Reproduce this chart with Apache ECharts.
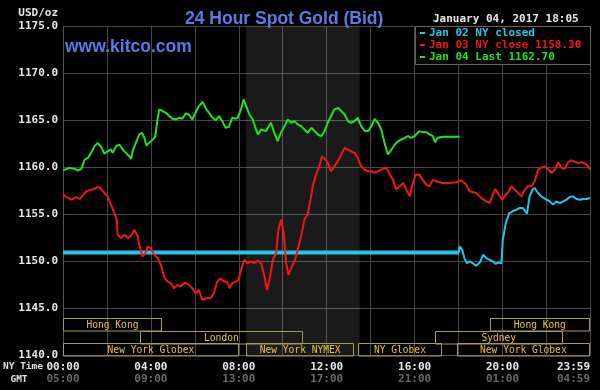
<!DOCTYPE html>
<html>
<head>
<meta charset="utf-8">
<script src="https://cdn.jsdelivr.net/npm/echarts@6/dist/echarts.min.js"></script>
<style>html,body{margin:0;padding:0;background:#000;}#c{width:600px;height:390px;}</style>
</head>
<body>
<div id="c"></div>
<script>
// ---- Data (time = minutes after 00:00 NY time, price in USD/oz) ----
const titleText = '24 Hour Spot Gold (Bid)';
const siteText = 'www.kitco.com';
const dateText = 'January 04, 2017 18:05';
const unitText = 'USD/oz';
const legendLabels = ['Jan 02 NY closed', 'Jan 03 NY close 1158.30', 'Jan 04 Last 1162.70'];
const nyMexShade = [500, 810]; // 08:20 - 13:30

const cyanJan02 = [[0,1150.96],[1081,1150.96],[1083,1151.60],[1090,1151.25],[1096,1150.36],[1103,1149.82],[1110,1150.00],[1119,1149.82],[1128,1149.54],[1138,1149.89],[1147,1150.71],[1156,1150.36],[1165,1150.18],[1174,1150.00],[1181,1149.75],[1188,1149.89],[1197,1149.82],[1201,1152.31],[1209,1154.09],[1218,1155.09],[1227,1155.33],[1238,1155.51],[1247,1155.69],[1256,1155.69],[1261,1155.87],[1267,1155.09],[1274,1156.93],[1282,1157.65],[1288,1157.82],[1297,1157.29],[1306,1156.93],[1320,1156.58],[1329,1156.40],[1338,1156.05],[1347,1156.40],[1357,1156.22],[1366,1156.40],[1375,1156.58],[1384,1156.86],[1393,1156.93],[1402,1156.65],[1411,1156.58],[1420,1156.65],[1430,1156.65],[1439,1156.76]];
const cyanClosedEnd = 1081;

const redJan03 = [[0,1157.11],[9,1156.86],[23,1156.58],[36,1156.86],[45,1156.65],[54,1157.01],[63,1157.47],[77,1157.65],[86,1157.72],[95,1157.93],
[104,1157.72],[113,1157.29],[122,1156.93],[131,1156.05],[140,1155.16],[147,1154.45],[149,1152.85],[158,1152.49],[168,1152.85],[177,1152.49],
[186,1152.74],[195,1153.38],[204,1152.67],[208,1151.78],[217,1150.53],[225,1150.89],[231,1151.60],[240,1151.42],[249,1150.71],[258,1150.36],
[267,1149.65],[276,1148.40],[285,1147.87],[294,1147.69],[303,1147.16],[312,1147.51],[322,1147.34],[333,1147.76],[344,1147.51],[353,1147.16],
[362,1146.63],[371,1146.98],[380,1145.91],[389,1146.09],[403,1146.09],[412,1146.63],[421,1147.87],[430,1148.22],[439,1147.87],[448,1147.87],
[455,1147.16],[462,1147.69],[471,1147.87],[480,1148.05],[486,1149.11],[495,1150.18],[504,1149.82],[513,1150.00],[522,1149.82],[532,1150.11],
[541,1149.82],[550,1148.40],[557,1146.98],[564,1148.05],[573,1150.18],[582,1150.89],[588,1153.38],[595,1154.45],[603,1153.02],[609,1149.82],
[616,1148.58],[625,1149.47],[634,1150.18],[641,1151.25],[650,1152.67],[659,1154.45],[668,1154.98],[676,1156.58],[682,1158.00],[691,1159.24],
[700,1160.13],[707,1161.20],[716,1160.84],[723,1160.49],[732,1159.60],[741,1160.13],[751,1160.67],[760,1161.38],[769,1162.09],[778,1161.91],
[787,1161.73],[796,1161.56],[805,1161.02],[814,1160.13],[824,1159.78],[833,1159.60],[842,1159.60],[851,1159.42],[860,1159.60],[869,1159.78],
[883,1159.96],[892,1159.24],[901,1158.71],[910,1157.65],[919,1158.00],[929,1158.36],[938,1157.65],[947,1156.93],[953,1158.00],[960,1158.89],
[964,1159.24],[973,1159.24],[982,1158.71],[992,1158.18],[1001,1158.00],[1010,1158.71],[1019,1158.53],[1037,1158.36],[1055,1158.36],[1074,1158.43],
[1087,1158.64],[1101,1158.18],[1110,1157.47],[1128,1157.29],[1142,1156.76],[1156,1156.40],[1165,1156.22],[1174,1157.11],[1181,1157.72],[1190,1157.11],
[1200,1156.58],[1209,1157.11],[1218,1157.47],[1224,1158.00],[1233,1157.65],[1243,1157.29],[1252,1156.93],[1261,1157.65],[1270,1158.00],[1279,1158.00],
[1288,1158.53],[1297,1159.78],[1306,1159.96],[1315,1160.13],[1325,1159.78],[1334,1159.42],[1343,1159.78],[1352,1160.56],[1361,1159.96],[1370,1159.85],
[1379,1160.56],[1388,1160.77],[1398,1160.56],[1407,1160.49],[1416,1160.56],[1425,1160.42],[1434,1160.13],[1439,1159.78]];

const greenJan04 = [[0,1159.71],[18,1159.96],[32,1159.85],[41,1159.67],[50,1159.85],[59,1160.84],[68,1161.02],[77,1161.56],[86,1162.27],[95,1162.62],
[104,1162.20],[113,1161.48],[122,1161.73],[131,1161.91],[136,1161.56],[145,1162.27],[154,1162.44],[163,1161.91],[172,1161.56],[181,1161.20],
[186,1160.92],[190,1161.73],[199,1162.62],[208,1163.51],[216,1163.69],[222,1163.16],[228,1162.34],[235,1162.62],[245,1162.98],[252,1163.26],
[258,1165.11],[263,1166.18],[272,1166.00],[281,1165.82],[290,1165.47],[299,1165.18],[308,1165.11],[317,1165.29],[326,1165.18],[335,1165.75],
[344,1165.64],[353,1165.11],[362,1165.82],[371,1166.53],[382,1166.96],[389,1166.35],[399,1165.82],[408,1165.29],[417,1165.04],[426,1165.47],
[435,1164.93],[444,1164.22],[453,1164.33],[462,1165.29],[471,1165.18],[477,1165.29],[486,1166.18],[493,1167.24],[500,1166.53],[509,1165.64],
[518,1165.11],[527,1164.04],[533,1163.51],[541,1164.04],[554,1163.87],[568,1164.76],[577,1163.69],[586,1162.80],[595,1163.69],[605,1164.40],
[614,1165.11],[623,1164.76],[632,1164.93],[641,1164.58],[650,1164.40],[659,1164.04],[668,1163.69],[678,1164.22],[687,1163.87],[696,1163.51],
[705,1163.33],[714,1163.87],[723,1164.76],[741,1166.18],[751,1166.35],[760,1166.00],[769,1165.64],[778,1164.93],[787,1164.76],[796,1164.93],
[805,1165.29],[814,1164.40],[824,1163.87],[833,1163.87],[842,1164.40],[851,1165.18],[860,1164.76],[869,1164.04],[878,1162.62],[887,1161.38],
[897,1161.91],[906,1162.44],[915,1162.80],[924,1162.98],[933,1163.16],[942,1163.33],[951,1163.16],[960,1163.33],[973,1163.87],[982,1163.76],
[992,1163.76],[1001,1163.51],[1010,1163.33],[1016,1162.69],[1023,1163.16],[1037,1163.26],[1055,1163.26],[1083,1163.26]];

// trading sessions
const marketNames = ['Hong Kong','London','New York Globex','New York NYMEX','NY Globex','New York Globex','Sydney','Hong Kong'];
const marketStart = [0, 210, 0, 500, 805, 1075, 1015, 1165];
const marketEnd   = [270, 655, 480, 795, 1035, 1439, 1365, 1439];
const marketRow   = [0, 1, 2, 2, 2, 2, 1, 0];

const yMin = 1140, yMax = 1175, yStep = 5;
const xMin = 0, xMax = 1439, xGridStep = 120, xLabelStep = 240, gmtOffset = 300;

// ---- Chart ----
const MONO = '"DejaVu Sans Mono", "Liberation Mono", monospace';
const SANS = '"Liberation Sans", Arial, sans-serif';
const cyanColor = '#22c6ea', redColor = '#f21616', greenColor = '#1fe41f';
const blueText = '#5a7be8';
const fmt = m => String(Math.floor(m / 60)).padStart(2, '0') + ':' + String(m % 60).padStart(2, '0');

const cyanFlat = cyanJan02.filter(p => p[0] <= cyanClosedEnd);
const cyanTail = cyanJan02.filter(p => p[0] >= cyanClosedEnd);
const marketData = marketStart.map((s, i) => [s, marketEnd[i], marketRow[i]]);

const chart = echarts.init(document.getElementById('c'), null, { renderer: 'canvas' });
chart.setOption({
  animation: false,
  backgroundColor: '#000',
  title: {
    text: titleText, left: 180, top: 5,
    textStyle: { color: blueText, fontFamily: SANS, fontSize: 17.5, fontWeight: 'bold' }
  },
  grid: { left: 63, right: 10, top: 26.5, bottom: 34.5, containLabel: false },
  legend: {
    data: [
      { name: legendLabels[0], textStyle: { color: cyanColor }, itemStyle: { color: cyanColor } },
      { name: legendLabels[1], textStyle: { color: redColor }, itemStyle: { color: redColor } },
      { name: legendLabels[2], textStyle: { color: greenColor }, itemStyle: { color: greenColor } }
    ],
    orient: 'vertical', left: 420, top: 27, padding: 0, itemGap: 0,
    icon: 'rect', itemWidth: 5, itemHeight: 2, z: 20, selectedMode: false,
    textStyle: { fontFamily: MONO, fontSize: 11, fontWeight: 'bold', lineHeight: 12, padding: [0, 0, 0, -1] }
  },
  xAxis: {
    type: 'value', min: xMin, max: xMax, interval: xGridStep,
    axisLine: { show: true, lineStyle: { color: '#555' } },
    axisTick: { show: false },
    splitLine: { show: true, lineStyle: { color: '#484848', width: 1 } },
    axisLabel: {
      margin: 6, showMaxLabel: true, showMinLabel: true, alignMaxLabel: 'right',
      formatter: v => {
        if (v % xLabelStep !== 0 && v !== xMax) return '';
        return '{a|' + fmt(v) + '}\n{b|' + fmt((v + gmtOffset) % 1440) + '}';
      },
      rich: {
        a: { color: '#e8e8e8', fontFamily: MONO, fontSize: 11, fontWeight: 'bold', lineHeight: 12 },
        b: { color: '#6a6a6a', fontFamily: MONO, fontSize: 11, fontWeight: 'bold', lineHeight: 12 }
      }
    }
  },
  yAxis: {
    type: 'value', min: yMin, max: yMax, interval: yStep,
    axisLine: { show: true, lineStyle: { color: '#555' } },
    axisTick: { show: false },
    splitLine: { show: true, lineStyle: { color: '#484848', width: 1 } },
    axisLabel: {
      margin: 5, color: '#e8e8e8', fontFamily: MONO, fontSize: 11, fontWeight: 'bold',
      formatter: v => v.toFixed(1)
    }
  },
  graphic: [
    { type: 'rect', z: 10, shape: { x: 415.5, y: 26.5, width: 175, height: 38 }, style: { fill: '#000', stroke: '#666', lineWidth: 1 } },
    { type: 'text', z: 10, style: { text: unitText, x: 58, y: 13, align: 'right', verticalAlign: 'middle', fill: '#e8e8e8', font: 'bold 11px ' + MONO } },
    { type: 'text', z: 10, style: { text: dateText, x: 433, y: 19, align: 'left', verticalAlign: 'middle', fill: '#e8e8e8', font: 'bold 11px ' + MONO } },
    { type: 'text', z: 10, style: { text: siteText, x: 65, y: 47, align: 'left', verticalAlign: 'middle', fill: blueText, font: 'bold 17.5px ' + SANS } },
    { type: 'text', z: 10, style: { text: 'NY Time', x: 23, y: 367, align: 'center', verticalAlign: 'middle', fill: '#e0e0e0', font: 'bold 9.5px ' + MONO } },
    { type: 'text', z: 10, style: { text: 'GMT', x: 19, y: 380, align: 'center', verticalAlign: 'middle', fill: '#e0e0e0', font: 'bold 9.5px ' + MONO } }
  ],
  series: [
    {
      name: 'shade', type: 'line', data: [], silent: true, z: 1,
      markArea: {
        silent: true,
        itemStyle: { color: 'rgba(255,255,255,0.1)' },
        data: [[{ xAxis: nyMexShade[0] }, { xAxis: nyMexShade[1] }]]
      }
    },
    {
      name: 'markets', type: 'custom', silent: true, z: 3,
      encode: { x: [0, 1], y: 2 },
      data: marketData,
      renderItem: (params, api) => {
        const s = api.coord([api.value(0), yMin]);
        const e = api.coord([api.value(1), yMin]);
        const row = api.value(2);
        const rowH = 12.5;
        const top = Math.round(s[1] - rowH * (3 - row)) + 0.5;
        return {
          type: 'group',
          children: [
            { type: 'rect', shape: { x: Math.round(s[0]) + 0.5, y: top, width: Math.round(e[0] - s[0]) - 1, height: rowH },
              style: { fill: 'rgba(0,0,0,0)', stroke: '#a89a5c', lineWidth: 1 } },
            { type: 'text', style: { text: marketNames[params.dataIndex], x: (s[0] + e[0]) / 2, y: top + rowH / 2 + 0.5,
              align: 'center', verticalAlign: 'middle', fill: '#e8c23a', font: '9.6px ' + MONO } }
          ]
        };
      }
    },
    { name: legendLabels[0], type: 'line', data: cyanFlat, showSymbol: false, z: 4,
      lineStyle: { color: cyanColor, width: 4 }, itemStyle: { color: cyanColor } },
    { name: legendLabels[0], type: 'line', data: cyanTail, showSymbol: false, z: 4,
      lineStyle: { color: cyanColor, width: 2 }, itemStyle: { color: cyanColor } },
    { name: legendLabels[1], type: 'line', data: redJan03, showSymbol: false, z: 5,
      lineStyle: { color: redColor, width: 2 }, itemStyle: { color: redColor } },
    { name: legendLabels[2], type: 'line', data: greenJan04, showSymbol: false, z: 6,
      lineStyle: { color: greenColor, width: 2 }, itemStyle: { color: greenColor } }
  ]
});
</script>
</body>
</html>
